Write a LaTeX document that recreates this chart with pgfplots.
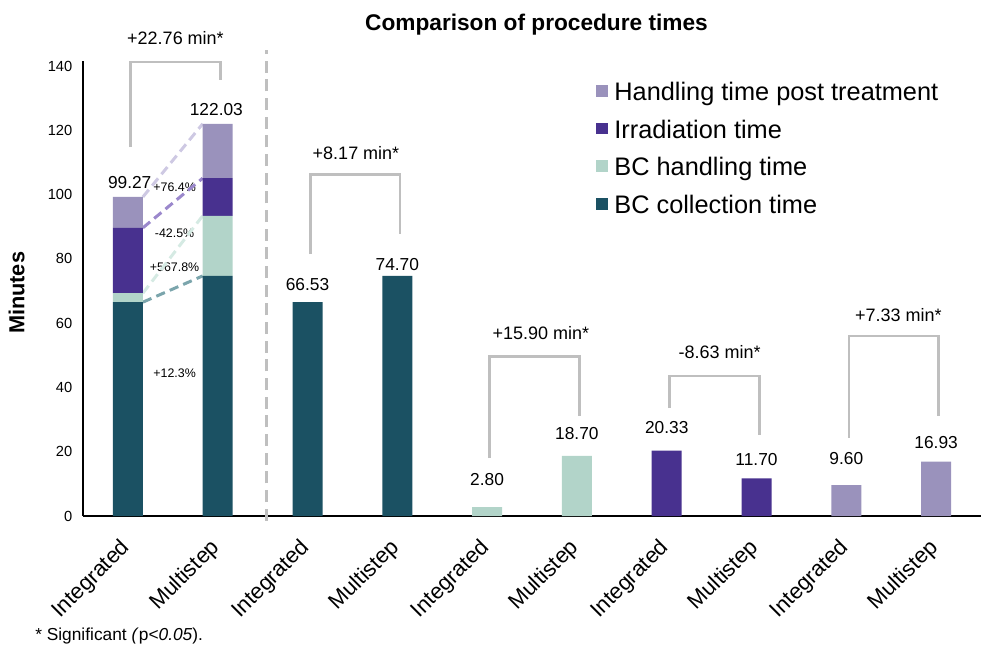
\documentclass[border=0pt]{standalone}
\usepackage{pgfplots}
\pgfplotsset{compat=1.18}
\usepackage{fontspec}
\setmainfont{Liberation Sans}

\definecolor{cTeal}{HTML}{1B5163}
\definecolor{cMint}{HTML}{B2D4C9}
\definecolor{cPurple}{HTML}{48318F}
\definecolor{cLav}{HTML}{9A92BC}
\definecolor{dTeal}{HTML}{7BA5AC}
\definecolor{dMint}{HTML}{D5EAE3}
\definecolor{dPurple}{HTML}{9B88CC}
\definecolor{dLav}{HTML}{CEC9E3}
\definecolor{brk}{HTML}{BFBFBF}

\begin{document}
\begin{tikzpicture}
\begin{axis}[
    scale only axis,
    width=673.5pt, height=341.1pt,
    xmin=-0.5, xmax=9.5,
    ymin=0, ymax=141.5,
    ybar stacked,
    bar width=22.5pt,
    legend image code/.code={\fill[#1] (0pt,-3.2pt) rectangle (8.8pt,5.6pt);},
    axis x line*=bottom,
    axis y line*=left,
    axis line style={line width=1.6pt},
    major tick length=0pt,
    xtick={0,...,9},
    xticklabels={Integrated,Multistep,Integrated,Multistep,Integrated,Multistep,Integrated,Multistep,Integrated,Multistep},
    xticklabel style={font=\fontsize{16.5}{19}\selectfont, anchor=east, xshift=1.5pt, yshift=-19pt, rotate=45},
    ytick={0,20,...,140},
    yticklabels={0,20,40,60,80,100,120,140},
    yticklabel style={font=\fontsize{11}{13}\selectfont, xshift=-4.5pt},
    clip=false,
    reverse legend,
    legend style={draw=none, fill=none, at={(0.5665,0.966)}, anchor=north west,
        font=\fontsize{19}{22}\selectfont, row sep=9pt, column sep=3pt},
    legend cell align=left,
]
% BC collection time
\addplot[fill=cTeal, draw=none] coordinates {
  (0,66.53)(1,74.70)(2,66.53)(3,74.70)(4,0)(5,0)(6,0)(7,0)(8,0)(9,0)};
% BC handling time
\addplot[fill=cMint, draw=none] coordinates {
  (0,2.80)(1,18.70)(2,0)(3,0)(4,2.80)(5,18.70)(6,0)(7,0)(8,0)(9,0)};
% Irradiation time
\addplot[fill=cPurple, draw=none] coordinates {
  (0,20.33)(1,11.70)(2,0)(3,0)(4,0)(5,0)(6,20.33)(7,11.70)(8,0)(9,0)};
% Handling time post treatment
\addplot[fill=cLav, draw=none] coordinates {
  (0,9.60)(1,16.93)(2,0)(3,0)(4,0)(5,0)(6,0)(7,0)(8,9.60)(9,16.93)};
\legend{BC collection time, BC handling time, Irradiation time, Handling time post treatment}

% connectors between stacked bars
\draw[dLav, line width=2.25pt, dash pattern=on 7pt off 4pt] (axis cs:0.167,99.26) -- (axis cs:0.833,122.03);
\draw[dPurple, line width=2.25pt, dash pattern=on 7pt off 4pt] (axis cs:0.167,89.66) -- (axis cs:0.833,105.10);
\draw[dMint, line width=2.25pt, dash pattern=on 7pt off 4pt] (axis cs:0.167,69.33) -- (axis cs:0.833,93.40);
\draw[dTeal, line width=2.25pt, dash pattern=on 7pt off 4pt] (axis cs:0.167,66.53) -- (axis cs:0.833,74.70);

% separator
\draw[brk, line width=2.25pt, dash pattern=on 9pt off 5pt] (axis cs:1.54,-1.5) -- (axis cs:1.54,145);

% brackets
\draw[brk, line width=2pt] (axis cs:0.03,114.8) -- (axis cs:0.03,141.2) -- (axis cs:1.03,141.2) -- (axis cs:1.03,135.6);
\draw[brk, line width=2pt] (axis cs:2.03,81.5) -- (axis cs:2.03,106.3) -- (axis cs:3.03,106.3) -- (axis cs:3.03,87.7);
\draw[brk, line width=2pt] (axis cs:4.03,18.0) -- (axis cs:4.03,49.6) -- (axis cs:5.03,49.6) -- (axis cs:5.03,31.1);
\draw[brk, line width=2pt] (axis cs:6.03,33.6) -- (axis cs:6.03,43.6) -- (axis cs:7.03,43.6) -- (axis cs:7.03,25.2);
\draw[brk, line width=2pt] (axis cs:8.03,24.3) -- (axis cs:8.03,56.0) -- (axis cs:9.03,56.0) -- (axis cs:9.03,31.1);

\node[font=\fontsize{13.5}{16}\selectfont] at (axis cs:0.53,148.7) {+22.76 min*};
\node[font=\fontsize{13.5}{16}\selectfont] at (axis cs:2.54,113) {+8.17 min*};
\node[font=\fontsize{13.5}{16}\selectfont] at (axis cs:4.60,56.9) {+15.90 min*};
\node[font=\fontsize{13.5}{16}\selectfont] at (axis cs:6.59,51.0) {-8.63 min*};
\node[font=\fontsize{13.5}{16}\selectfont] at (axis cs:8.58,62.5) {+7.33 min*};

\node[font=\fontsize{13}{16}\selectfont] at (axis cs:0.02,103.9) {99.27};
\node[font=\fontsize{13}{16}\selectfont] at (axis cs:0.985,126.6) {122.03};
\node[font=\fontsize{13}{16}\selectfont] at (axis cs:2,71.9) {66.53};
\node[font=\fontsize{13}{16}\selectfont] at (axis cs:3,78.1) {74.70};
\node[font=\fontsize{13}{16}\selectfont] at (axis cs:4,11.2) {2.80};
\node[font=\fontsize{13}{16}\selectfont] at (axis cs:5,25.8) {18.70};
\node[font=\fontsize{13}{16}\selectfont] at (axis cs:6,27.4) {20.33};
\node[font=\fontsize{13}{16}\selectfont] at (axis cs:7,17.7) {11.70};
\node[font=\fontsize{13}{16}\selectfont] at (axis cs:8,18.0) {9.60};
\node[font=\fontsize{13}{16}\selectfont] at (axis cs:9,23.0) {16.93};

\node[font=\fontsize{9.3}{11}\selectfont] at (axis cs:0.52,102.4) {+76.4\%};
\node[font=\fontsize{9.3}{11}\selectfont] at (axis cs:0.52,88) {-42.5\%};
\node[font=\fontsize{9.3}{11}\selectfont] at (axis cs:0.52,77.5) {+567.8\%};
\node[font=\fontsize{9.3}{11}\selectfont] at (axis cs:0.52,44.5) {+12.3\%};

\node[font=\bfseries\fontsize{17}{20}\selectfont] at (axis cs:4.55,152.8) {Comparison of procedure times};
\node[font=\bfseries\fontsize{16.3}{19}\selectfont, rotate=90] at (axis cs:-1.24,69.4) {Minutes};
\end{axis}
\node[font=\fontsize{13}{16}\selectfont, anchor=west, inner sep=0pt] at ([xshift=-36pt, yshift=-90pt]current axis.south west) {* Significant \textit{(}p\textit{<0.05}).};
\pgfresetboundingbox
\path[use as bounding box] ([xshift=-62.25pt, yshift=-99pt]current axis.south west) rectangle ([yshift=45.9pt]current axis.north east);
\end{tikzpicture}
\end{document}
